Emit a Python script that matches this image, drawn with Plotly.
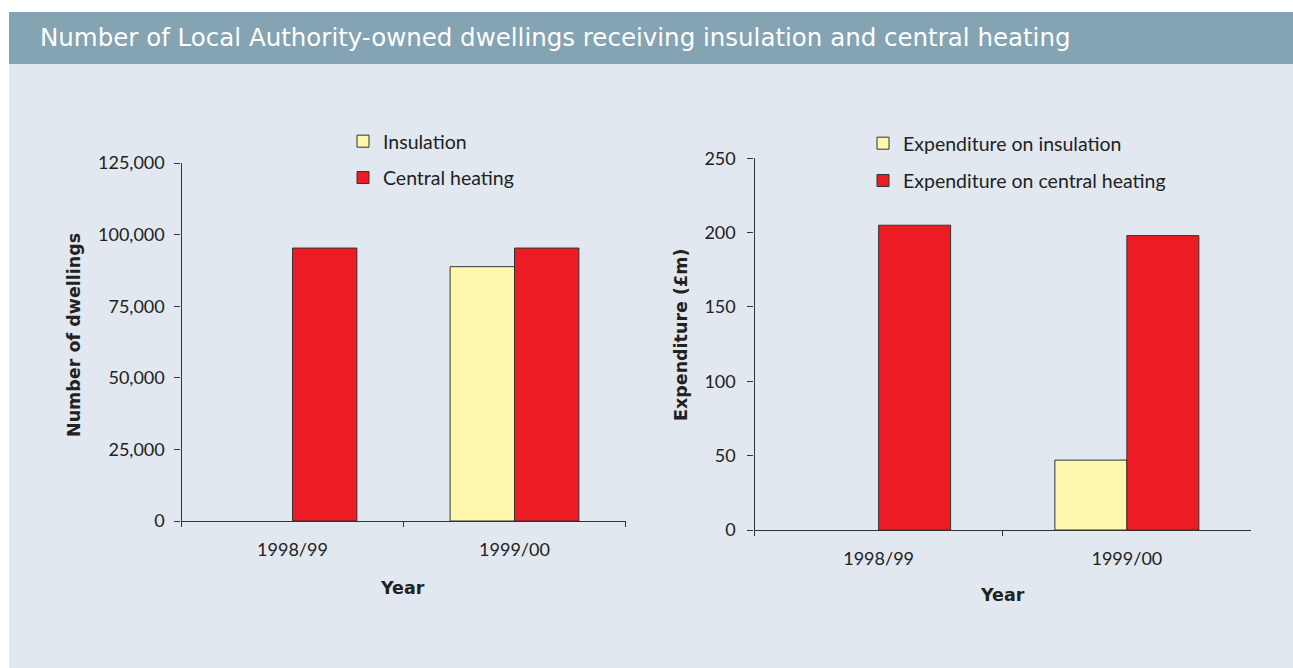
import plotly.graph_objects as go

W, H = 1293, 668
OFF = 0  # page body margin removed in post_script

years = ["1998/99", "1999/00"]
dwellings_insulation = [None, 88800]
dwellings_heating = [95300, 95300]
spend_insulation = [None, 47]
spend_heating = [205, 198]

names_left = ["Insulation", "Central heating"]
names_right = ["Expenditure on insulation", "Expenditure on central heating"]
title_text = "Number of Local Authority-owned dwellings receiving insulation and central heating"

YELLOW = "#FFF7AE"
RED = "#ED1C24"
BG = "#E1E8EF"
BANNER = "#84A3B3"
INK = "#333333"
TXT = "#222222"
FONT = "Lato"
TFONT = "DejaVu Sans"

def px_x(p):
    return (p - OFF) / W

def px_y(p):
    return 1 - (p - OFF) / H

fig = go.Figure()

line = dict(color=INK, width=1)
fig.add_bar(x=years, y=dwellings_insulation, name=names_left[0], marker=dict(color=YELLOW, line=line),
            xaxis="x", yaxis="y", legend="legend", legendgroup="a", hoverinfo="skip")
fig.add_bar(x=years, y=dwellings_heating, name=names_left[1], marker=dict(color=RED, line=line),
            xaxis="x", yaxis="y", legend="legend", legendgroup="b", hoverinfo="skip")
fig.add_bar(x=years, y=spend_insulation, name=names_right[0], marker=dict(color=YELLOW, line=line),
            xaxis="x2", yaxis="y2", legend="legend2", legendgroup="c", hoverinfo="skip")
fig.add_bar(x=years, y=spend_heating, name=names_right[1], marker=dict(color=RED, line=line),
            xaxis="x2", yaxis="y2", legend="legend2", legendgroup="d", hoverinfo="skip")

tickfont = dict(family=FONT, size=18, color=TXT)
xcommon = dict(type="category", showline=True, linecolor=INK, linewidth=1.3, ticks="outside",
               tickson="boundaries", ticklen=5, tickcolor=INK, tickwidth=1.3, tickfont=tickfont,
               showgrid=False, zeroline=False, ticklabelstandoff=12, fixedrange=True, automargin=False)
ycommon = dict(showline=True, linecolor=INK, linewidth=1.3, ticks="outside", ticklen=6, tickcolor=INK,
               tickwidth=1.3, tickfont=tickfont, showgrid=False, zeroline=False,
               fixedrange=True, automargin=False)

legfont = dict(family=FONT, size=19.5, color=TXT)
axtitle_font = dict(family=TFONT, size=17.5, color=TXT)

fig.update_layout(
    width=W, height=H,
    margin=dict(l=0, r=0, t=0, b=0, pad=0, autoexpand=False),
    paper_bgcolor="white",
    plot_bgcolor="rgba(0,0,0,0)",
    barmode="group", bargap=0.42, bargroupgap=0,
    font=dict(family=FONT, color=TXT),
    xaxis=dict(domain=[px_x(181.5), px_x(625.5)], anchor="y", **xcommon),
    yaxis=dict(domain=[px_y(521), px_y(163)], anchor="x", range=[0, 125000], dtick=25000,
               tickformat=",", ticklabelstandoff=6, **ycommon),
    xaxis2=dict(domain=[px_x(754.5), px_x(1251)], anchor="y2", **xcommon),
    yaxis2=dict(domain=[px_y(530), px_y(158.3)], anchor="x2", range=[0, 250], dtick=50,
                ticklabelstandoff=8, **ycommon),
    legend=dict(x=px_x(343), y=px_y(122), xanchor="left", yanchor="top", bgcolor="rgba(0,0,0,0)",
                font=legfont, traceorder="grouped",
                tracegroupgap=8, itemclick=False, itemdoubleclick=False),
    legend2=dict(x=px_x(863), y=px_y(124), xanchor="left", yanchor="top", bgcolor="rgba(0,0,0,0)",
                 font=legfont, traceorder="grouped",
                 tracegroupgap=9, itemclick=False, itemdoubleclick=False),
    shapes=[
        dict(type="rect", xref="paper", yref="paper", x0=px_x(9), x1=1, y0=0, y1=px_y(64),
             fillcolor=BG, line=dict(width=0), layer="below"),
        dict(type="rect", xref="paper", yref="paper", x0=px_x(9), x1=1, y0=px_y(64), y1=px_y(12),
             fillcolor=BANNER, line=dict(width=0), layer="below"),
    ],
    annotations=[
        dict(text=title_text, xref="paper", yref="paper", x=px_x(38), y=px_y(38), xanchor="left",
             yanchor="middle", showarrow=False,
             font=dict(family=TFONT, size=24.5, color="white")),
        dict(text="<b>Number of dwellings</b>", xref="paper", yref="paper", x=px_x(74), y=px_y(335),
             xanchor="center", yanchor="middle", textangle=-90, showarrow=False, font=axtitle_font),
        dict(text="<b>Expenditure (£m)</b>", xref="paper", yref="paper", x=px_x(681), y=px_y(335),
             xanchor="center", yanchor="middle", textangle=-90, showarrow=False, font=axtitle_font),
        dict(text="<b>Year</b>", xref="paper", yref="paper", x=px_x(402), y=px_y(588),
             xanchor="center", yanchor="middle", showarrow=False, font=axtitle_font),
        dict(text="<b>Year</b>", xref="paper", yref="paper", x=px_x(1002), y=px_y(595),
             xanchor="center", yanchor="middle", showarrow=False, font=axtitle_font),
    ],
)

fig.write_html("out.html", config={"displayModeBar": False},
               post_script="document.body.style.margin='0';document.body.style.overflow='hidden';")
